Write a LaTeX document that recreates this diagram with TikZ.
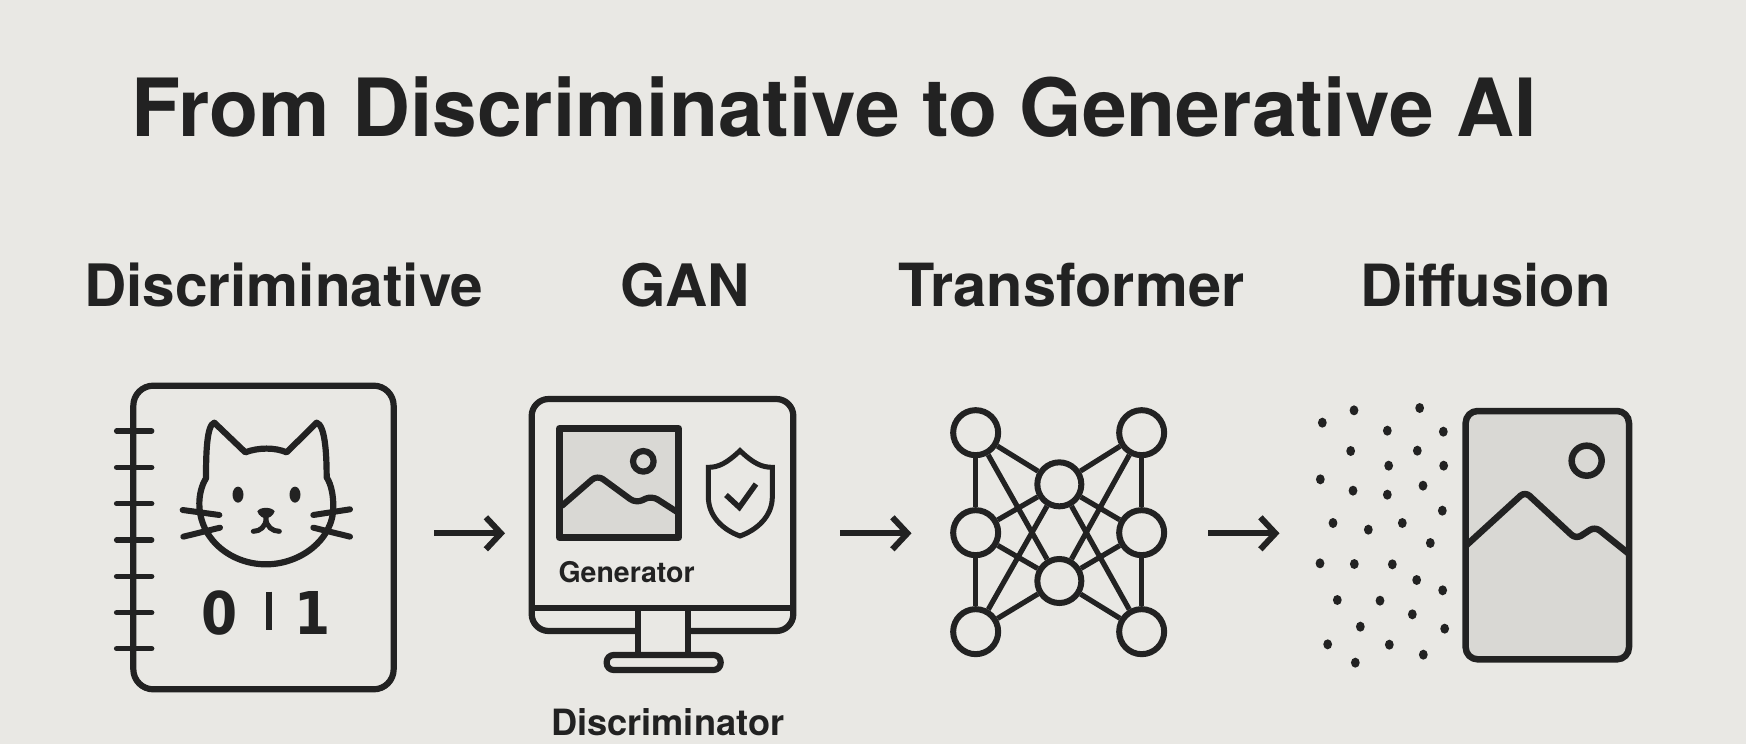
\documentclass[tikz,border=0pt]{standalone}
\usepackage{fontspec}
\setmainfont{TeX Gyre Heros}
\newfontfamily\digitfont[FakeStretch=0.88]{DejaVu Sans}
\usetikzlibrary{arrows.meta}
\definecolor{bg}{HTML}{E9E8E4}
\definecolor{ink}{HTML}{222222}
\definecolor{paneGrey}{HTML}{D9D8D4}
\tikzset{
  ln/.style={draw=ink,line width=6.2pt,line join=round},
  rnd/.style={ln,line cap=round},
  flowarrow/.style={draw=ink,line width=6pt,-{Straight Barb[length=15pt,width=32pt,line width=6pt]}},
  title/.style={anchor=base west,inner sep=0pt,text=ink,font=\fontsize{80.3}{82}\selectfont\bfseries},
  head/.style={anchor=base west,inner sep=0pt,text=ink,font=\fontsize{58.5}{60}\selectfont\bfseries},
  captext/.style={anchor=base west,inner sep=0pt,text=ink},
  digit/.style={anchor=center,inner sep=0pt,text=ink,font=\digitfont\fontsize{59}{62}\selectfont\bfseries},
  netnode/.style={circle,draw=ink,line width=6pt,inner sep=0pt,minimum size=45pt},
  midnode/.style={netnode,minimum size=44pt},
  netedge/.style={draw=ink,line width=5.2pt},
  dot/.style={fill=ink,draw=none},
  zoom/.style={x=0.33333pt,y=-0.33333pt}
}
\begin{document}
\begin{tikzpicture}[x=1pt,y=-1pt]
\fill[bg] (0,0) rectangle (1746,744);
\useasboundingbox (0,0) rectangle (1746,744);
% titles
\node[title] (maintitle) at (131,136.5) {From Discriminative to Generative AI};
\node[head] (h1) at (84,306) {Discriminative};
\node[head] (h2) at (620,306) {GAN};
\node[head,font=\fontsize{59.5}{60}\selectfont\bfseries] (h3) at (898,306) {Transformer};
\node[head,font=\fontsize{58.2}{60}\selectfont\bfseries] (h4) at (1360,306) {Diffusion};

% notebook + cat
\begin{scope}[shift={(100,370)},zoom]
\draw[ln,rounded corners=20pt] (100,47) rectangle (881,958);
\foreach \yy in {183,292,401,510,619,728,836}
  \draw[rnd,line width=5.5pt] (50,\yy) -- (155,\yy);
\draw[ln] (343,158) -- (436,247)
  .. controls (475,232) and (525,232) .. (560,247)
  -- (650,158) .. controls (675,165) and (680,250) .. (680,322)
  .. controls (695,345) and (700,380) .. (700,410)
  .. controls (700,510) and (600,583) .. (498,583)
  .. controls (395,583) and (298,510) .. (298,400)
  .. controls (298,375) and (305,345) .. (318,325)
  .. controls (318,250) and (320,165) .. cycle;
\foreach \a/\b/\c/\d in {248/420/358/435,250/500/360/473,750/418/640/435,750/500/640/473}
  \draw[rnd,line width=6pt] (\a,\b) -- (\c,\d);
\fill[ink] (414,374) ellipse [x radius=5.5pt,y radius=8pt];
\fill[ink] (585,374) ellipse [x radius=5.5pt,y radius=8pt];
\fill[ink] (472,424) .. controls (480,410) and (515,410) .. (524,424) .. controls (520,438) and (505,445) .. (498,445) .. controls (490,445) and (476,438) .. cycle;
\draw[rnd,line width=5pt] (460,484) .. controls (480,484) and (498,470) .. (498,445) .. controls (498,470) and (518,484) .. (538,484);
\node[digit] (zero) at (358,728) {0};
\node[digit] (one) at (638,728) {1};
\draw[draw=ink,line width=6pt] (506,665) -- (506,780);
\end{scope}

% monitor
\begin{scope}[shift={(510,380)},zoom]
\draw[ln,rounded corners=17pt] (385,753) -- (65,753) -- (65,57) -- (850,57) -- (850,753) -- (535,753);
\draw[ln] (65,685) -- (850,685);
\draw[ln] (385,685) -- (385,825);
\draw[ln] (535,685) -- (535,825);
\draw[ln,rounded corners=7pt] (290,825) rectangle (632,870);
\filldraw[fill=paneGrey,ln,line width=6.5pt] (148,145) rectangle (506,473);
\draw[ln] (400,244) circle [radius=10.3pt];
\draw[ln,rounded corners=7pt] (155,378) -- (262,285) -- (378,370) -- (425,347) -- (500,395);
\draw[ln,line width=5pt,line join=miter] (690,212) .. controls (650,250) and (625,262) .. (595,262) -- (595,350)
  .. controls (595,410) and (640,450) .. (690,468) .. controls (740,450) and (787,410) .. (787,350)
  -- (787,262) .. controls (755,262) and (730,250) .. cycle;
\draw[ln,line width=5.5pt,line join=miter] (648,345) -- (688,382) -- (738,312);
\node[captext,font=\fontsize{28.5}{30}\selectfont\bfseries] (gen) at (145,607) {Generator};
\node[captext,font=\fontsize{36.2}{38}\selectfont\bfseries] (disc) at (123,1067) {Discriminator};
\end{scope}

% network
\begin{scope}[shift={(930,390)},zoom]
\node[netnode] (tl) at (137,128) {};
\node[netnode] (tr) at (635,128) {};
\node[netnode] (ml) at (137,428) {};
\node[netnode] (mr) at (635,428) {};
\node[netnode] (bl) at (137,725) {};
\node[netnode] (br) at (635,725) {};
\node[midnode] (ct) at (388,283) {};
\node[midnode] (cb) at (388,573) {};
\foreach \p/\q in {tl/ml,ml/bl,tr/mr,mr/br,tl/ct,tr/ct,ml/ct,mr/ct,bl/ct,br/ct,tl/cb,tr/cb,ml/cb,mr/cb,bl/cb,br/cb}
  \draw[netedge] (\p) -- (\q);
\end{scope}

% diffusion
\begin{scope}[shift={(1300,390)},zoom]
\foreach \a/\b in {67/98,162/61,359/54,262/122,430/125,152/183,352/182,266/227,431/227,61/268,159/302,262/314,369/287,427/362,99/399,205/419,307/399,391/459,60/520,163/522,277/523,350/570,428/601,112/630,240/632,337/673,181/710,434/716,83/763,268/764,370/794,166/818}
  \fill[dot] (\a,\b) ellipse [x radius=4.4pt,y radius=5pt];
\fill[paneGrey,rounded corners=12pt] (497,63) rectangle (987,808);
\draw[ln,line width=6.5pt,rounded corners=6pt] (500,465) -- (675,305) -- (828,447) -- (885,410) -- (985,490);
\draw[ln,line width=6.5pt] (860,212) circle [radius=15pt];
\draw[ln,line width=6.5pt,rounded corners=12pt] (497,63) rectangle (987,808);
\end{scope}

% flow arrows
\coordinate (a1s) at (434,533.3);
\coordinate (a1e) at (505,533.3);
\coordinate (a2s) at (840,533.3);
\coordinate (a2e) at (911.5,533.3);
\coordinate (a3s) at (1208.3,533.3);
\coordinate (a3e) at (1279.5,533.3);
\draw[flowarrow] (a1s) -- (a1e);
\draw[flowarrow] (a2s) -- (a2e);
\draw[flowarrow] (a3s) -- (a3e);
\end{tikzpicture}
\end{document}
